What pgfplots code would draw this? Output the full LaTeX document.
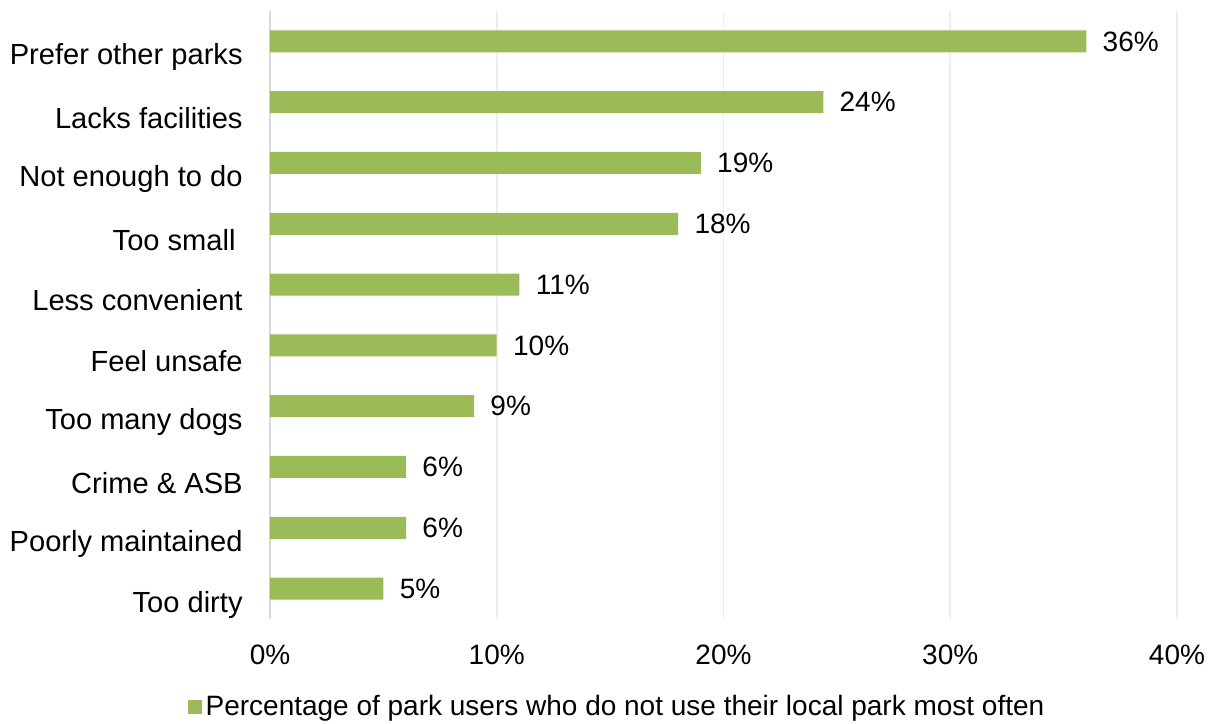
\documentclass[border=0pt]{standalone}
\usepackage{pgfplots}
\pgfplotsset{compat=1.18}
\usepackage{fontspec}
\setmainfont{Liberation Sans}
\definecolor{bargreen}{HTML}{9BBB59}
\definecolor{gridc}{HTML}{EEEEEA}
\definecolor{axc}{HTML}{D9D9D9}
\begin{document}
\fontsize{14.05}{17}\selectfont
\begin{tikzpicture}
% fixed frame: axis box starts at (0,0)
\path[use as bounding box] (-135bp,-52.5bp) rectangle (471bp,309.5bp);
\begin{axis}[
  at={(0,0)}, anchor=south west,
  scale only axis,
  width=453.5bp, height=304bp,
  xbar, bar width=11bp,
  xmin=0, xmax=40, xtick={0,10,...,40},
  ymin=-0.5, ymax=9.5,
  ytick={0,...,9},
  yticklabels={Too dirty, Poorly maintained, Crime \& ASB, Too many dogs, Feel unsafe, Less convenient, Too small\kern3.5bp, Not enough to do, Lacks facilities, Prefer other parks},
  xticklabel={\pgfmathprintnumber{\tick}\%},
  /pgf/number format/assume math mode=true,
  axis x line*=bottom, axis y line*=left,
  x axis line style={draw=none},
  y axis line style={draw=axc, line width=1pt},
  major tick length=0pt,
  xmajorgrids, grid style={draw=gridc, line width=0.8pt},
  yticklabel style={inner sep=0pt, xshift=-13.5bp, yshift=-8bp, font=\fontsize{14.6}{17}\selectfont},
  xticklabel style={inner sep=0pt, yshift=-13bp},
  nodes near coords={\pgfmathprintnumber[fixed,precision=0]{\pgfplotspointmeta}\%},
  every node near coord/.append style={inner sep=0pt, xshift=8bp, black},
  legend style={at={(0.3837,-0.1447)}, anchor=center, draw=none, fill=none, inner sep=0pt,
    legend cell align=left},
  legend image code/.code={\fill[bargreen] (0bp,-3.5bp) rectangle (7bp,3.5bp);},
]
\addplot[fill=bargreen, draw=none] coordinates {
(5,0) (6,1) (6,2) (9,3) (10,4) (11,5) (18,6) (19,7) (24.4,8) (36,9)};
\addlegendentry{Percentage of park users who do not use their local park most often}
\end{axis}
\end{tikzpicture}
\end{document}
